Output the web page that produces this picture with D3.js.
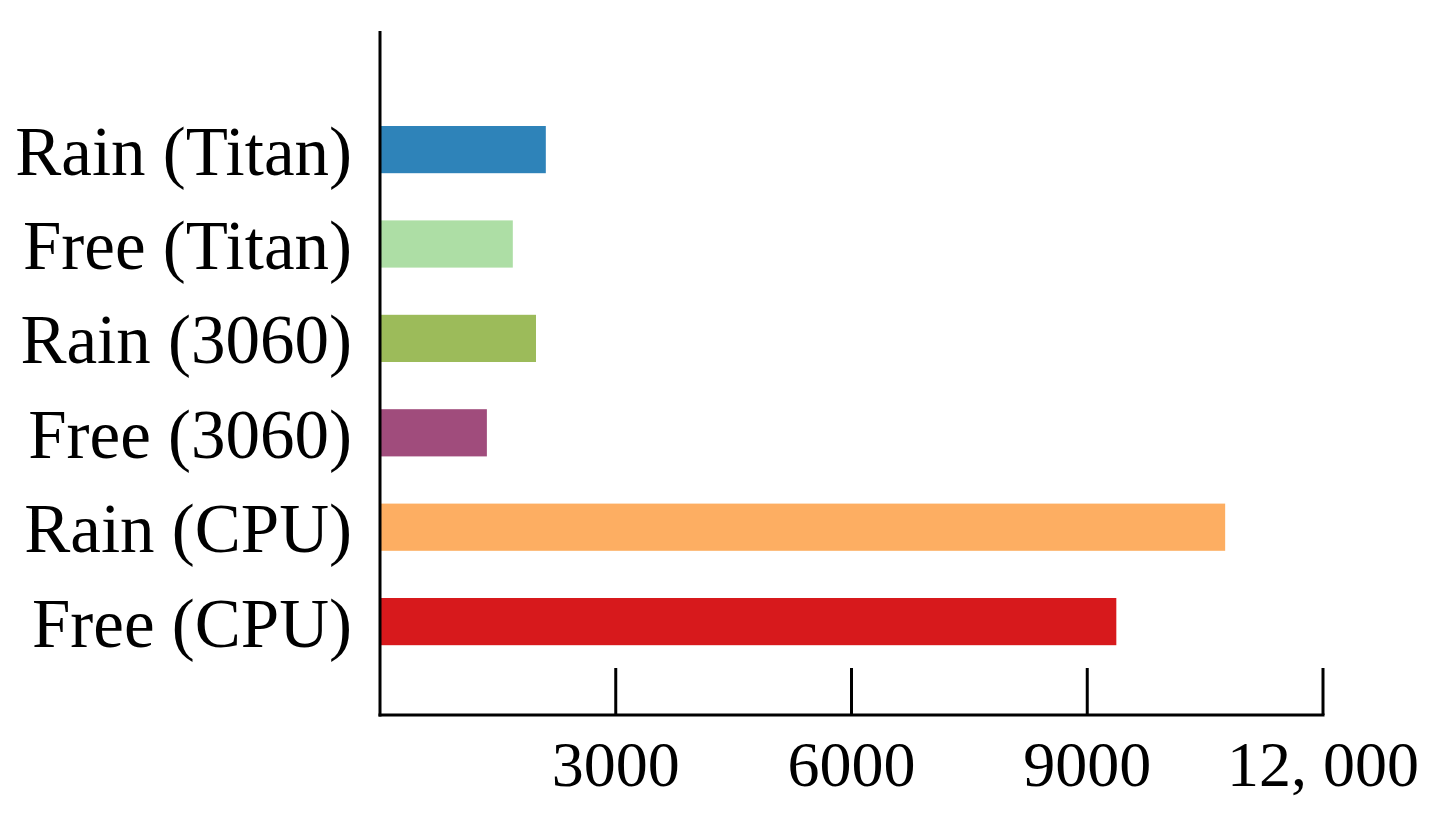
<!DOCTYPE html>
<html><head><meta charset="utf-8">
<script src="https://cdn.jsdelivr.net/npm/d3@7"></script>
<style>body{margin:0;background:#fff}svg{display:block}</style>
</head><body>
<svg id="c" width="1435" height="821"></svg>
<script>
const categories = ["Rain (Titan)", "Free (Titan)", "Rain (3060)", "Free (3060)", "Rain (CPU)", "Free (CPU)"];
const values = [2110, 1690, 1985, 1360, 10755, 9370];
const colors = ["#2e83b9", "#addea5", "#9cbb5a", "#a04c7c", "#fdae62", "#d7191c"];
const tickValues = [3000, 6000, 9000, 12000];
const tickLabels = ["3000", "6000", "9000", "12, 000"];

const svg = d3.select("#c");
const x0 = 380, xAxisY = 715;
const x = d3.scaleLinear().domain([0, 12000]).range([x0, 1323]);
const y = d3.scaleBand().domain(categories).range([78.8, 692.4]).paddingInner(0.5).paddingOuter(0.5);
const font = "'Liberation Serif', 'Times New Roman', serif";

svg.append("g").selectAll("rect").data(categories).join("rect")
  .attr("x", x(0)).attr("y", d => y(d))
  .attr("width", (d, i) => x(values[i]) - x(0))
  .attr("height", y.bandwidth())
  .attr("fill", (d, i) => colors[i]);

// y axis line
svg.append("line").attr("x1", x0).attr("x2", x0).attr("y1", 31).attr("y2", xAxisY + 1.5)
  .attr("stroke", "#000").attr("stroke-width", 3);
// x axis line
svg.append("line").attr("x1", x0 - 1.5).attr("x2", x(12000) + 1.5).attr("y1", xAxisY).attr("y2", xAxisY)
  .attr("stroke", "#000").attr("stroke-width", 3);
// ticks (pointing up)
svg.append("g").selectAll("line").data(tickValues).join("line")
  .attr("x1", d => x(d)).attr("x2", d => x(d))
  .attr("y1", 668).attr("y2", xAxisY)
  .attr("stroke", "#000").attr("stroke-width", 3);
// tick labels
svg.append("g").selectAll("text").data(tickValues).join("text")
  .attr("x", d => x(d)).attr("y", 786)
  .attr("text-anchor", "middle")
  .style("font-family", font).style("font-size", "64px").attr("fill", "#000")
  .text((d, i) => tickLabels[i]);
// category labels
svg.append("g").selectAll("text").data(categories).join("text")
  .attr("x", 352).attr("y", d => y(d) + y.bandwidth() / 2 + 25)
  .attr("text-anchor", "end")
  .style("font-family", font).style("font-size", "69px").attr("fill", "#000")
  .text(d => d);
</script>
</body></html>
